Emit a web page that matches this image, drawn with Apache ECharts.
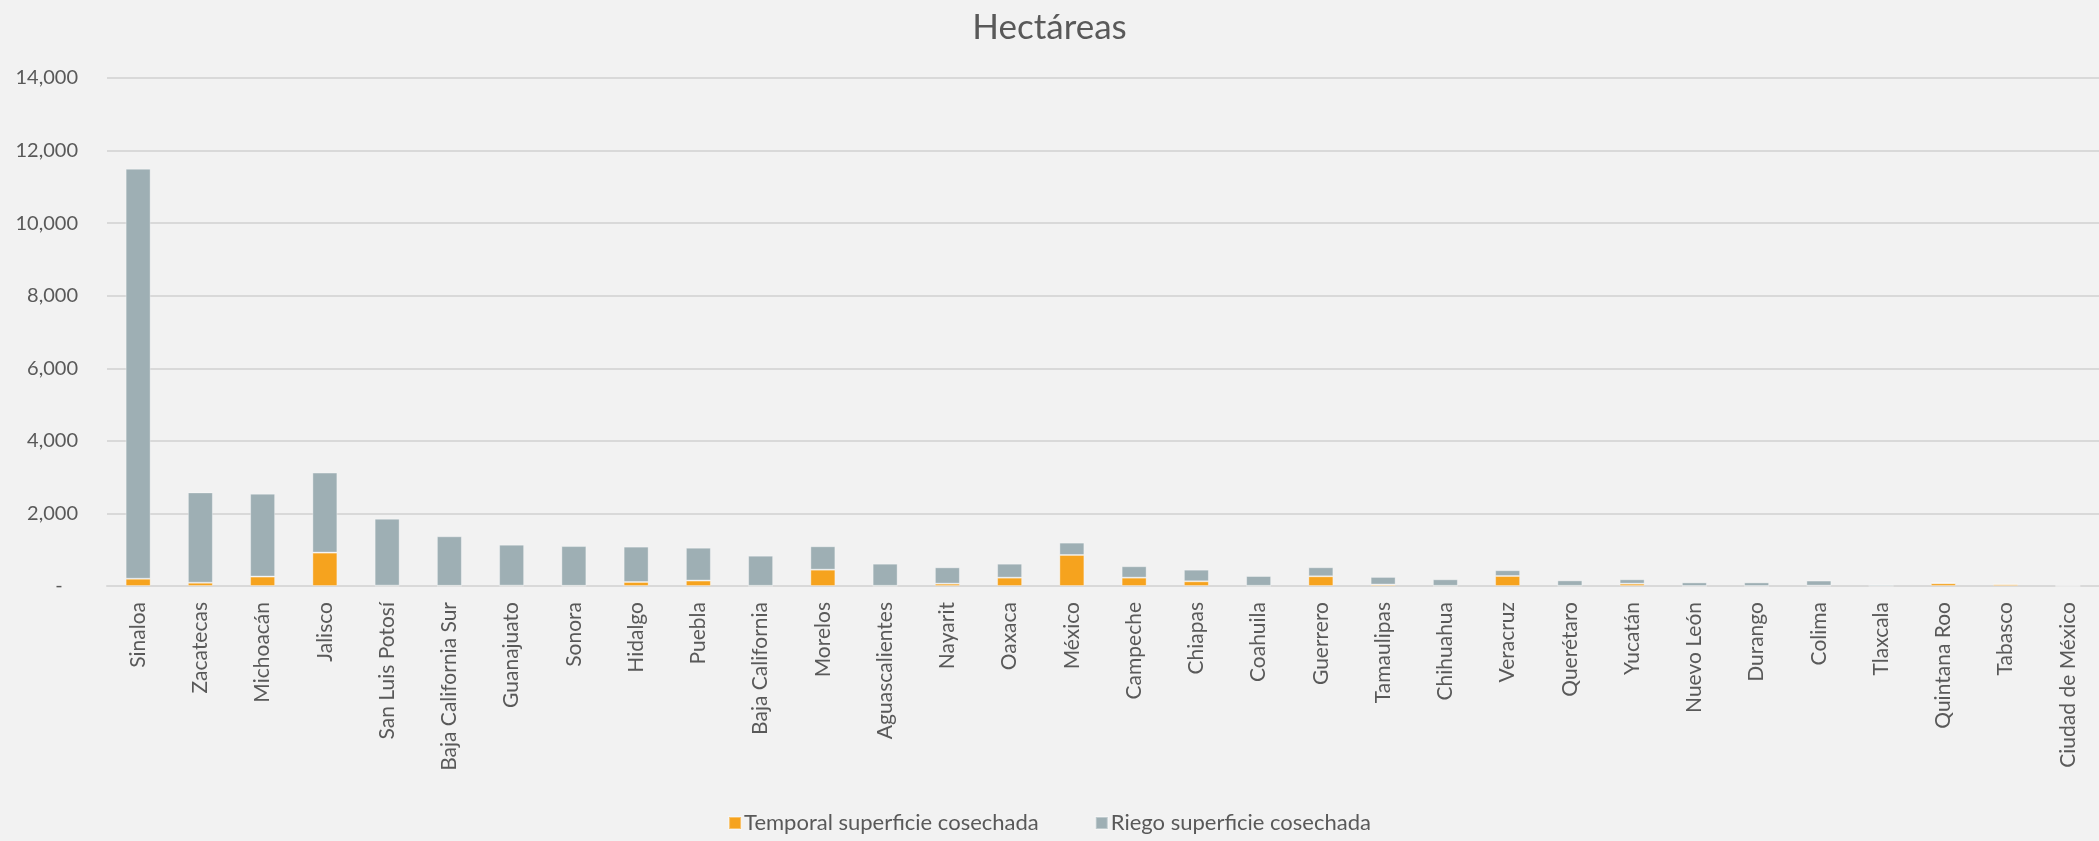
<!DOCTYPE html>
<html>
<head>
<meta charset="utf-8">
<script src="https://cdn.jsdelivr.net/npm/echarts@6/dist/echarts.min.js"></script>
<style>
html,body{margin:0;padding:0;background:#f2f2f2;}
#chart{width:2099px;height:841px;}
</style>
</head>
<body>
<div id="chart"></div>
<script>
const titleText = 'Hectáreas';
const categories = ['Sinaloa','Zacatecas','Michoacán','Jalisco','San Luis Potosí','Baja California Sur','Guanajuato','Sonora','Hidalgo','Puebla','Baja California','Morelos','Aguascalientes','Nayarit','Oaxaca','México','Campeche','Chiapas','Coahuila','Guerrero','Tamaulipas','Chihuahua','Veracruz','Querétaro','Yucatán','Nuevo León','Durango','Colima','Tlaxcala','Quintana Roo','Tabasco','Ciudad de México'];
const temporal = [200,90,260,920,10,5,10,5,110,150,5,450,5,65,230,855,230,130,5,267,40,5,275,5,65,0,0,10,0,75,50,0];
const riego = [11300,2490,2285,2205,1845,1365,1130,1095,975,905,830,645,610,450,385,340,315,320,270,250,210,180,160,150,120,100,100,140,40,25,5,5];
const seriesNames = ['Temporal superficie cosechada','Riego superficie cosechada'];
const yMin = 0, yMax = 14000, yInterval = 2000;

const FONT = 'Lato';
const TXT = '#595959';
const chart = echarts.init(document.getElementById('chart'));
chart.setOption({
  backgroundColor: '#f2f2f2',
  animation: false,
  title: {
    text: titleText, left: 'center', top: 5,
    textStyle: {fontFamily: FONT, fontSize: 35, fontWeight: 'normal', color: TXT}
  },
  legend: {
    bottom: 2, left: 'center', icon: 'rect', itemWidth: 12, itemHeight: 12, itemGap: 56,
    textStyle: {fontFamily: FONT, fontSize: 22, color: TXT, padding: [0,0,0,-2]},
    data: seriesNames
  },
  grid: {left: 107, right: 0, top: 78, bottom: 255, outerBoundsMode: 'none'},
  xAxis: {
    type: 'category', data: categories,
    axisLine: {show: true, lineStyle: {color: '#d9d9d9', width: 2}},
    axisTick: {show: false},
    axisLabel: {rotate: 90, margin: 16, fontFamily: FONT, fontSize: 21, color: TXT, interval: 0}
  },
  yAxis: {
    type: 'value', min: yMin, max: yMax, interval: yInterval,
    axisLine: {show: false}, axisTick: {show: false},
    splitLine: {lineStyle: {color: '#d9d9d9', width: 2}},
    axisLabel: {
      margin: 29, fontFamily: FONT, fontSize: 20, color: TXT,
      formatter: v => v === 0 ? '-   ' : v.toLocaleString('en-US')
    }
  },
  series: [
    {name: seriesNames[0], type: 'bar', stack: 'a', data: temporal, barWidth: 25,
     itemStyle: {color: '#f6a31e', borderColor: 'rgba(255,255,255,0.35)', borderWidth: 1}},
    {name: seriesNames[1], type: 'bar', stack: 'a', data: riego, barWidth: 25,
     itemStyle: {color: '#9eafb4', borderColor: 'rgba(255,255,255,0.35)', borderWidth: 1}}
  ]
});
</script>
</body>
</html>
